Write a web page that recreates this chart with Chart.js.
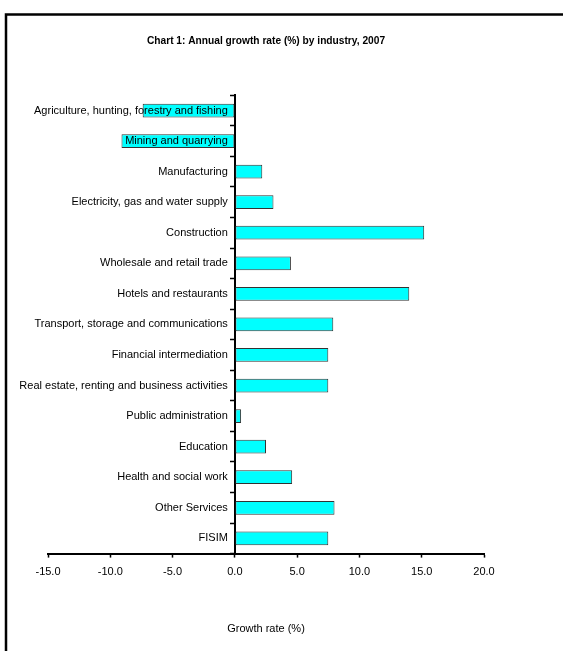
<!DOCTYPE html>
<html>
<head>
<meta charset="utf-8">
<title>Annual growth rate by industry</title>
<script src="https://cdn.jsdelivr.net/npm/chart.js@4/dist/chart.umd.min.js"></script>
<style>
  html, body { margin: 0; padding: 0; background: #fff; }
  #chart { display: block; }
</style>
</head>
<body>
<canvas id="chart" width="563" height="651"></canvas>
<script>
// Industries, top to bottom
const industries = [
  'Agriculture, hunting, forestry and fishing',
  'Mining and quarrying',
  'Manufacturing',
  'Electricity, gas and water supply',
  'Construction',
  'Wholesale and retail trade',
  'Hotels and restaurants',
  'Transport, storage and communications',
  'Financial intermediation',
  'Real estate, renting and business activities',
  'Public administration',
  'Education',
  'Health and social work',
  'Other Services',
  'FISIM'
];

// Annual growth rate (%), 2007
const growthRates = [-7.4, -9.1, 2.2, 3.1, 15.2, 4.5, 14.0, 7.9, 7.5, 7.5, 0.5, 2.5, 4.6, 8.0, 7.5];

// Value axis range
const axisMin = -15;
const axisMax = 20;
const axisStep = 5;

const FONT = 'Liberation Sans, Arial, Helvetica, sans-serif';

// Gap between the category labels and the zero line
const LABEL_GAP = 7;

// Thick outer frame around the whole chart
const framePlugin = {
  id: 'frame',
  beforeDraw(chart) {
    const ctx = chart.ctx;
    ctx.save();
    ctx.strokeStyle = '#000';
    ctx.lineWidth = 2.5;
    ctx.strokeRect(6, 14.5, 620, 700);
    ctx.restore();
  }
};

new Chart(document.getElementById('chart'), {
  type: 'bar',
  data: {
    labels: industries,
    datasets: [{
      data: growthRates,
      backgroundColor: '#00ffff',
      borderColor: '#333333',
      borderWidth: 1,
      borderSkipped: false,
      categoryPercentage: 1,
      barPercentage: 0.45
    }]
  },
  options: {
    indexAxis: 'y',
    responsive: false,
    animation: false,
    devicePixelRatio: 1,
    layout: { padding: { left: 48, right: 79, top: 0, bottom: 0 } },
    plugins: {
      legend: { display: false },
      tooltip: { enabled: false },
      title: {
        display: true,
        text: 'Chart 1: Annual growth rate (%) by industry, 2007',
        color: '#000',
        font: { family: FONT, size: 10.2, weight: 'bold' },
        padding: { top: 35, bottom: 48 }
      }
    },
    scales: {
      x: {
        type: 'linear',
        min: axisMin,
        max: axisMax,
        grid: { drawOnChartArea: false, tickLength: 4, color: '#000', tickWidth: 1.5 },
        border: { display: true, color: '#000', width: 2 },
        ticks: {
          stepSize: axisStep,
          padding: 8,
          color: '#000',
          font: { family: FONT, size: 11 },
          callback: v => v.toFixed(1)
        },
        title: {
          display: true,
          text: 'Growth rate (%)',
          color: '#000',
          font: { family: FONT, size: 11 },
          padding: { top: 36, bottom: 15 }
        }
      },
      y: {
        // category axis crosses the value axis at zero
        position: { x: 0 },
        grid: { drawOnChartArea: false, tickLength: 4, color: '#000', tickWidth: 1.5, offset: true },
        border: { display: true, color: '#000', width: 2 },
        ticks: {
          z: 1, // labels sit on top of the negative bars
          color: '#000',
          autoSkip: false,
          font: { family: FONT, size: 11 }
        },
        afterUpdate(scale) {
          // labels of a value-positioned axis ignore ticks.padding, so shift them left
          if (scale._shifted) return;
          scale._shifted = true;
          const compute = scale._computeLabelItems.bind(scale);
          scale._computeLabelItems = area => compute(area).map(item => {
            item.options.translation[0] -= LABEL_GAP;
            return item;
          });
        }
      }
    }
  },
  plugins: [framePlugin]
});
</script>
</body>
</html>
